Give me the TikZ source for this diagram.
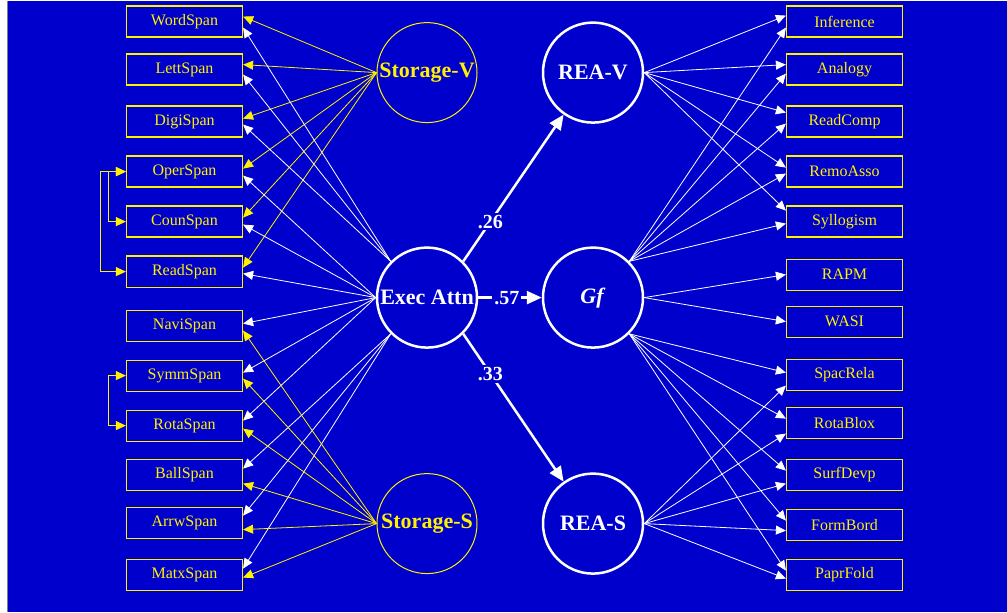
\documentclass[tikz,border=0pt]{standalone}
\usepackage{fontspec}
\setmainfont{Liberation Serif}
\usetikzlibrary{positioning,arrows.meta}
\definecolor{bg}{RGB}{0,0,204}

\begin{document}
\begin{tikzpicture}[x=1pt, y=-1pt,
    box/.style={draw=yellow, line width=1.2pt, text=yellow, font=\fontsize{16}{18}\selectfont, minimum width=116pt, minimum height=31pt, inner sep=0pt},
    latent/.style={circle, draw=white, line width=2.5pt, text=white, font=\bfseries\fontsize{22}{24}\selectfont, minimum size=100pt, inner sep=0pt},
    store/.style={latent, draw=yellow, text=yellow, line width=1pt},
    load/.style={-{Triangle[length=10pt,width=9pt]}, white, line width=0.8pt},
    yload/.style={load, yellow},
    corr/.style={{Triangle[length=10pt,width=9pt]}-{Triangle[length=10pt,width=9pt]}, yellow, line width=1pt},
    arrow/.style={-{Triangle[length=15pt,width=13pt]}, white, line width=2.5pt},
    coef/.style={fill=bg, text=white, font=\bfseries\fontsize{20}{22}\selectfont, inner sep=2pt}
]
% Fondo
\fill[white] (0,0) rectangle (1007,611);
\fill[bg] (8,0) rectangle (1007,611);
\draw[gray, line width=1.2pt] (7.5,0) -- (7.5,611);

% Variables latentes
\node[store]  (stov) at (427,72)  {Storage-V};
\node[latent] (exec) at (427,297) {Exec Attn};
\node[store]  (stos) at (427,523) {Storage-S};
\node[latent] (reav) at (593,72)  {REA-V};
\node[latent] (gf)   at (593,297) {\textit{Gf}};
\node[latent] (reas) at (593,523) {REA-S};

% Tareas de memoria (izquierda)
\node[box] (word) at (184.5,21)  {WordSpan};
\node[box] (lett) at (184.5,69)  {LettSpan};
\node[box] (digi) at (184.5,121) {DigiSpan};
\node[box] (oper) at (184.5,171) {OperSpan};
\node[box] (coun) at (184.5,221) {CounSpan};
\node[box] (read) at (184.5,271) {ReadSpan};
\node[box] (navi) at (184.5,325) {NaviSpan};
\node[box] (symm) at (184.5,375) {SymmSpan};
\node[box] (rota) at (184.5,425) {RotaSpan};
\node[box] (ball) at (184.5,474) {BallSpan};
\node[box] (arrw) at (184.5,522) {ArrwSpan};
\node[box] (matx) at (184.5,574) {MatxSpan};

% Tareas de razonamiento (derecha)
\node[box] (infe) at (844.5,21)  {Inference};
\node[box] (anal) at (844.5,69)  {Analogy};
\node[box] (rcmp) at (844.5,121) {ReadComp};
\node[box] (remo) at (844.5,171) {RemoAsso};
\node[box] (syll) at (844.5,221) {Syllogism};
\node[box] (rapm) at (844.5,274) {RAPM};
\node[box] (wasi) at (844.5,321) {WASI};
\node[box] (spac) at (844.5,374) {SpacRela};
\node[box] (rblx) at (844.5,422) {RotaBlox};
\node[box] (surf) at (844.5,474) {SurfDevp};
\node[box] (form) at (844.5,524) {FormBord};
\node[box] (papr) at (844.5,574) {PaprFold};

% Cargas de Storage-V
\draw[yload] (stov.west) -- ([yshift=5pt]word.east);
\draw[yload] (stov.west) -- ([yshift=5pt]lett.east);
\draw[yload] (stov.west) -- ([yshift=3pt]digi.east);
\draw[yload] (stov.west) -- ([yshift=3pt]oper.east);
\draw[yload] (stov.west) -- ([yshift=4pt]coun.east);
\draw[yload] (stov.west) -- ([yshift=4pt]read.east);

% Cargas de Exec Attn
\draw[load] (exec.135) -- ([yshift=-6pt]word.east);
\draw[load] (exec.135) -- ([yshift=-5pt]lett.east);
\draw[load] (exec.135) -- ([yshift=-3pt]digi.east);
\draw[load] (exec.west) -- ([yshift=-4pt]oper.east);
\draw[load] (exec.west) -- ([yshift=-3pt]coun.east);
\draw[load] (exec.west) -- ([yshift=-2pt]read.east);
\draw[load] (exec.west) -- ([yshift=2pt]navi.east);
\draw[load] (exec.west) -- ([yshift=3pt]symm.east);
\draw[load] (exec.west) -- ([yshift=5pt]rota.east);
\draw[load] (exec.225) -- ([yshift=6pt]ball.east);
\draw[load] (exec.225) -- ([yshift=7pt]arrw.east);
\draw[load] (exec.225) -- ([yshift=6pt]matx.east);

% Cargas de Storage-S
\draw[yload] (stos.west) -- ([yshift=-5pt]navi.east);
\draw[yload] (stos.west) -- ([yshift=-3pt]symm.east);
\draw[yload] (stos.west) -- ([yshift=-3pt]rota.east);
\draw[yload] (stos.west) -- ([yshift=-9pt]ball.east);
\draw[yload] (stos.west) -- ([yshift=-7pt]arrw.east);
\draw[yload] (stos.west) -- ([yshift=-3pt]matx.east);

% Errores correlacionados
\draw[corr] (oper.west) -- ++(-25,0) |- (read.west);
\draw[corr] (oper.west) -- ++(-17,0) |- (coun.west);
\draw[corr] (symm.west) -- ++(-17,0) |- (rota.west);

% Rutas estructurales
\draw[arrow] (exec.45) -- node[coef, pos=0.27] {.26} (reav.235);
\draw[arrow] (exec.east) -- node[coef, pos=0.45] {.57} (gf.west);
\draw[arrow] (exec.-45) -- node[coef, pos=0.27] {.33} (reas.125);

% Cargas de REA-V
\draw[load] (reav.east) -- ([yshift=6pt]infe.west);
\draw[load] (reav.east) -- ([yshift=5pt]anal.west);
\draw[load] (reav.east) -- ([yshift=9pt]rcmp.west);
\draw[load] (reav.east) -- ([yshift=4pt]remo.west);
\draw[load] (reav.east) -- ([yshift=11pt]syll.west);

% Cargas de Gf
\draw[load] (gf.45) -- ([yshift=-6pt]infe.west);
\draw[load] (gf.45) -- ([yshift=-4pt]anal.west);
\draw[load] (gf.45) -- ([yshift=-2pt]rcmp.west);
\draw[load] (gf.45) -- ([yshift=-2pt]remo.west);
\draw[load] (gf.45) -- ([yshift=-2pt]syll.west);
\draw[load] (gf.east) -- (rapm.west);
\draw[load] (gf.east) -- (wasi.west);
\draw[load] (gf.-45) -- ([yshift=2pt]spac.west);
\draw[load] (gf.-45) -- ([yshift=4pt]rblx.west);
\draw[load] (gf.-45) -- ([yshift=4pt]surf.west);
\draw[load] (gf.-45) -- ([yshift=4pt]form.west);
\draw[load] (gf.-45) -- ([yshift=4pt]papr.west);

% Cargas de REA-S
\draw[load] (reas.east) -- ([yshift=-11pt]spac.west);
\draw[load] (reas.east) -- ([yshift=-11pt]rblx.west);
\draw[load] (reas.east) -- ([yshift=-9pt]surf.west);
\draw[load] (reas.east) -- ([yshift=-6pt]form.west);
\draw[load] (reas.east) -- ([yshift=-4pt]papr.west);
\end{tikzpicture}
\end{document}
